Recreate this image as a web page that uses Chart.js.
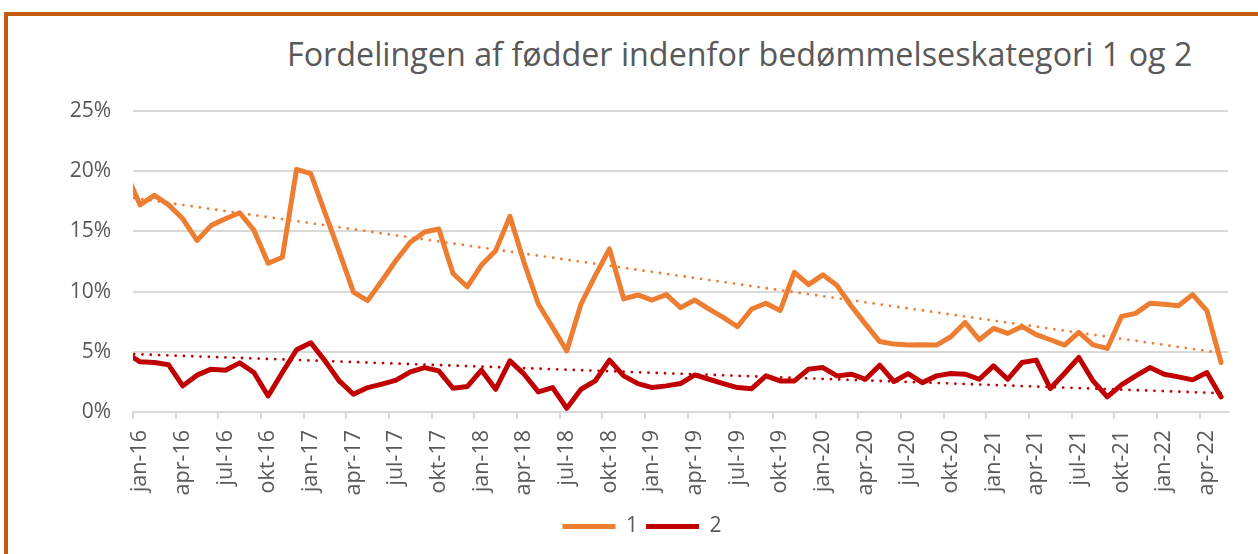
<!DOCTYPE html>
<html>
<head>
<meta charset="utf-8">
<script src="https://cdn.jsdelivr.net/npm/chart.js@4/dist/chart.umd.min.js"></script>
<style>
  html, body { margin: 0; padding: 0; background: #fff; }
  #wrap { position: relative; width: 1258px; height: 554px; overflow: hidden; }
  #frame {
    position: absolute; left: 4px; top: 12px; width: 1400px; height: 700px;
    border-top: 4px solid #c55a11; border-left: 4px solid #c55a11;
  }
  #title {
    position: absolute; left: 287px; top: 31px; white-space: nowrap;
    font-family: "Open Sans", sans-serif; font-size: 32.3px; color: #595959;
  }
  #chart { position: absolute; left: 0; top: 0; }
</style>
</head>
<body>
<div id="wrap">
  <div id="frame"></div>
  <div id="title">Fordelingen af fødder indenfor bedømmelseskategori 1 og 2</div>
  <canvas id="chart" width="1258" height="554"></canvas>
</div>
<script>
// months, dec-15 lies just left of the axis and is clipped like in the original
const months = ['dec-15',
  'jan-16','feb-16','mar-16','apr-16','maj-16','jun-16','jul-16','aug-16','sep-16','okt-16','nov-16','dec-16',
  'jan-17','feb-17','mar-17','apr-17','maj-17','jun-17','jul-17','aug-17','sep-17','okt-17','nov-17','dec-17',
  'jan-18','feb-18','mar-18','apr-18','maj-18','jun-18','jul-18','aug-18','sep-18','okt-18','nov-18','dec-18',
  'jan-19','feb-19','mar-19','apr-19','maj-19','jun-19','jul-19','aug-19','sep-19','okt-19','nov-19','dec-19',
  'jan-20','feb-20','mar-20','apr-20','maj-20','jun-20','jul-20','aug-20','sep-20','okt-20','nov-20','dec-20',
  'jan-21','feb-21','mar-21','apr-21','maj-21','jun-21','jul-21','aug-21','sep-21','okt-21','nov-21','dec-21',
  'jan-22','feb-22','mar-22','apr-22','maj-22'];

// kategori 1 (%)
const kat1 = [19.9,
  17.2, 18.0, 17.2, 16.05, 14.25, 15.5, 16.05, 16.55, 15.1, 12.35, 12.85, 20.15,
  19.8, 16.55, 13.3, 9.95, 9.25, 10.9, 12.6, 14.1, 14.95, 15.2, 11.5, 10.4,
  12.2, 13.4, 16.25, 12.4, 8.97, 7.03, 5.08, 8.97, 11.33, 13.55, 9.39, 9.72,
  9.3, 9.75, 8.67, 9.3, 8.55, 7.86, 7.08, 8.55, 9.03, 8.42, 11.6, 10.58,
  11.39, 10.5, 8.8, 7.3, 5.85, 5.64, 5.56, 5.58, 5.56, 6.25, 7.44, 6.0,
  6.94, 6.53, 7.11, 6.42, 6.0, 5.56, 6.61, 5.58, 5.28, 7.94, 8.19, 9.03,
  8.94, 8.83, 9.75, 8.42, 4.11];

// kategori 2 (%)
const kat2 = [4.9,
  4.17, 4.11, 3.92, 2.17, 3.06, 3.56, 3.47, 4.08, 3.28, 1.33, 3.28, 5.17,
  5.75, 4.25, 2.58, 1.47, 2.03, 2.31, 2.64, 3.33, 3.69, 3.42, 1.97, 2.11,
  3.47, 1.89, 4.25, 3.14, 1.67, 2.03, 0.31, 1.89, 2.58, 4.31, 3.0, 2.36,
  2.03, 2.17, 2.36, 3.08, 2.72, 2.36, 2.03, 1.94, 3.0, 2.58, 2.58, 3.56,
  3.69, 3.0, 3.14, 2.72, 3.89, 2.53, 3.19, 2.44, 3.0, 3.19, 3.14, 2.72,
  3.83, 2.72, 4.11, 4.31, 1.95, 3.22, 4.53, 2.58, 1.25, 2.25, 3.0, 3.69,
  3.14, 2.92, 2.67, 3.28, 1.25];

// linear trend lines, end values (first and last month)
const trend1 = [17.87, 4.9];
const trend2 = [4.83, 1.56];

const yTicks = [0, 5, 10, 15, 20, 25];

const orange = '#ed7d31';
const red = '#c00000';
const grey = '#595959';
const gridGrey = '#d9d9d9';

function trendSeries(ends) {
  const arr = months.map(() => null);
  arr[0] = ends[0];
  arr[months.length - 1] = ends[1];
  return arr;
}

function isQuarter(label) {
  return /^(jan|apr|jul|okt)-/.test(label);
}

const ctx = document.getElementById('chart');

new Chart(ctx, {
  type: 'line',
  data: {
    labels: months,
    datasets: [
      {
        label: '1',
        data: kat1,
        borderColor: orange,
        backgroundColor: orange,
        borderWidth: 5,
        borderCapStyle: 'round',
        borderJoinStyle: 'round',
        pointRadius: 0,
        tension: 0,
        order: 3
      },
      {
        label: '2',
        data: kat2,
        borderColor: red,
        backgroundColor: red,
        borderWidth: 5,
        borderCapStyle: 'round',
        borderJoinStyle: 'round',
        pointRadius: 0,
        tension: 0,
        order: 2
      },
      {
        label: 'trend1',
        data: trendSeries(trend1),
        borderColor: orange,
        borderWidth: 2.8,
        borderDash: [0, 8.3],
        borderCapStyle: 'round',
        pointRadius: 0,
        spanGaps: true,
        order: 1
      },
      {
        label: 'trend2',
        data: trendSeries(trend2),
        borderColor: red,
        borderWidth: 2.8,
        borderDash: [0, 8.3],
        borderCapStyle: 'round',
        pointRadius: 0,
        spanGaps: true,
        order: 0
      }
    ]
  },
  options: {
    responsive: false,
    animation: false,
    layout: {
      padding: { top: 111, right: 22, bottom: 7, left: 48 }
    },
    plugins: {
      tooltip: { enabled: false },
      title: { display: false },
      legend: {
        position: 'bottom',
        labels: {
          filter: item => item.text === '1' || item.text === '2',
          sort: (a, b) => a.datasetIndex - b.datasetIndex,
          usePointStyle: true,
          pointStyle: 'line',
          pointStyleWidth: 53,
          boxHeight: 5,
          color: grey,
          padding: 8,
          font: { family: '"Open Sans", sans-serif', size: 21 }
        }
      }
    },
    scales: {
      x: {
        min: 'jan-16',
        offset: true,
        grid: {
          offset: true,
          drawOnChartArea: false,
          drawTicks: true,
          tickLength: 7,
          lineWidth: 2,
          color: c => (c.tick && isQuarter(months[c.tick.value])) ? gridGrey : 'rgba(0,0,0,0)'
        },
        border: { display: true, color: gridGrey, width: 2 },
        ticks: {
          autoSkip: false,
          minRotation: 90,
          maxRotation: 90,
          padding: 11,
          color: grey,
          font: { family: '"Open Sans", sans-serif', size: 21.5 },
          callback: function (value) {
            const lab = this.getLabelForValue(value);
            return isQuarter(lab) ? lab : '';
          }
        },
        afterFit: scale => { scale.height = 96; }
      },
      y: {
        min: 0,
        max: 25,
        afterBuildTicks: scale => { scale.ticks = yTicks.map(v => ({ value: v })); },
        grid: {
          color: gridGrey,
          lineWidth: 2,
          drawTicks: false
        },
        border: { display: false },
        ticks: {
          padding: 22,
          color: grey,
          font: { family: '"Open Sans", sans-serif', size: 21 },
          callback: v => v + '%'
        },
        afterFit: scale => { scale.width = 85; }
      }
    }
  }
});
</script>
</body>
</html>
